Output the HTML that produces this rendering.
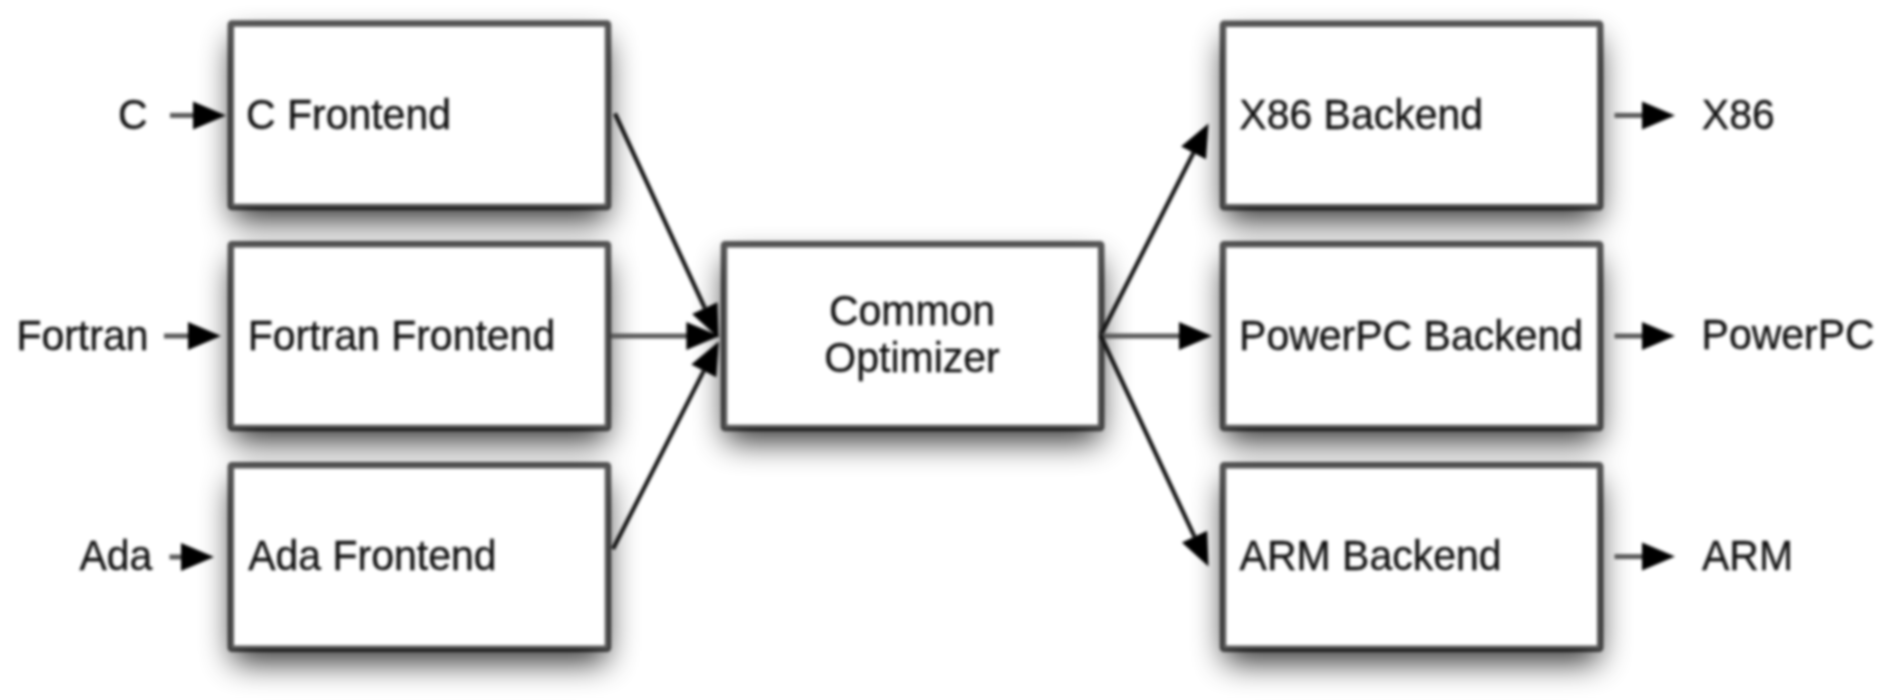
<!DOCTYPE html>
<html><head><meta charset="utf-8"><style>
html,body{margin:0;padding:0;background:#fff;width:1892px;height:700px;overflow:hidden}
svg{display:block;filter:blur(1.4px)}
.sh rect{fill:#000}
.bx rect{fill:#fff;stroke:rgba(0,0,0,0.66);stroke-width:6.5}
.ln{stroke:#151515;stroke-width:4.2}
.hl{stroke:#5a5a5a;stroke-width:5}
polygon{fill:#000}
text{font-family:"Liberation Sans",sans-serif;font-size:41px;fill:#111;stroke:#111;stroke-width:0.35px}
</style></head><body>
<svg width="1892" height="700" viewBox="0 0 1892 700">
<defs>
<filter id="sh" x="-1000" y="-1000" width="4000" height="3000" filterUnits="userSpaceOnUse">
<feGaussianBlur stdDeviation="16"/>
</filter>
</defs>
<rect width="1892" height="700" fill="#fff"/>
<g class="sh" filter="url(#sh)" opacity="0.82">
<rect x="232.55" y="40.25" width="373.7" height="180.1"/>
<rect x="232.55" y="261.05" width="373.7" height="180.1"/>
<rect x="232.55" y="481.95" width="373.7" height="180.1"/>
<rect x="725.75" y="261.05" width="373.7" height="180.1"/>
<rect x="1224.75" y="40.45" width="373.7" height="180.1"/>
<rect x="1224.75" y="261.05" width="373.7" height="180.1"/>
<rect x="1224.75" y="481.95" width="373.7" height="180.1"/>
</g>
<g class="bx">
<rect x="230.8" y="23.5" width="377.2" height="183.6" rx="1"/>
<rect x="230.8" y="244.3" width="377.2" height="183.6" rx="1"/>
<rect x="230.8" y="465.2" width="377.2" height="183.6" rx="1"/>
<rect x="724" y="244.3" width="377.2" height="183.6" rx="1"/>
<rect x="1223" y="23.7" width="377.2" height="183.6" rx="1"/>
<rect x="1223" y="244.3" width="377.2" height="183.6" rx="1"/>
<rect x="1223" y="465.2" width="377.2" height="183.6" rx="1"/>
</g>
<line class="hl" x1="170.0" y1="115.4" x2="193.5" y2="115.4"/>
<polygon points="226.0,115.4 193.0,129.4 193.0,101.4"/>
<line class="hl" x1="164.0" y1="336.0" x2="188.5" y2="336.0"/>
<polygon points="221.0,336.0 188.0,350.0 188.0,322.0"/>
<line class="hl" x1="169.5" y1="557.0" x2="181.5" y2="557.0"/>
<polygon points="214.0,557.0 181.0,571.0 181.0,543.0"/>
<line class="hl" x1="1614.5" y1="115.4" x2="1642.5" y2="115.4"/>
<polygon points="1675.0,115.4 1642.0,129.4 1642.0,101.4"/>
<line class="hl" x1="1614.5" y1="336.0" x2="1642.5" y2="336.0"/>
<polygon points="1675.0,336.0 1642.0,350.0 1642.0,322.0"/>
<line class="hl" x1="1614.5" y1="556.6" x2="1642.5" y2="556.6"/>
<polygon points="1675.0,556.6 1642.0,570.6 1642.0,542.6"/>
<line class="ln" x1="615.0" y1="113.5" x2="704.8" y2="308.0"/>
<polygon points="718.6,338.0 692.1,313.9 717.5,302.2"/>
<line class="hl" x1="611.0" y1="336.0" x2="686.9" y2="336.0"/>
<polygon points="719.4,336.0 686.4,350.0 686.4,322.0"/>
<line class="ln" x1="613.0" y1="549.0" x2="703.8" y2="370.9"/>
<polygon points="718.8,341.5 716.3,377.3 691.3,364.5"/>
<line class="ln" x1="1100.9" y1="335.0" x2="1193.5" y2="152.8"/>
<polygon points="1208.5,123.4 1206.0,159.2 1181.1,146.5"/>
<line class="hl" x1="1101.0" y1="336.0" x2="1179.5" y2="336.0"/>
<polygon points="1212.0,336.0 1179.0,350.0 1179.0,322.0"/>
<line class="ln" x1="1100.4" y1="335.0" x2="1194.5" y2="536.6"/>
<polygon points="1208.5,566.5 1181.9,542.5 1207.2,530.7"/>
<text transform="translate(246 128.7) scale(1 1.05)">C Frontend</text>
<text transform="translate(247.7 349.7) scale(1 1.05)">Fortran Frontend</text>
<text transform="translate(248.2 570.2) scale(1 1.05)">Ada Frontend</text>
<text transform="translate(1239.3 128.89999999999998) scale(1 1.05)">X86 Backend</text>
<text transform="translate(1239.1 349.5) scale(1 1.05)">PowerPC Backend</text>
<text transform="translate(1239.6 570.0) scale(1 1.05)">ARM Backend</text>
<text transform="translate(118 128.7) scale(1 1.05)">C</text>
<text transform="translate(16.4 349.7) scale(1 1.05)">Fortran</text>
<text transform="translate(79.5 569.7) scale(1 1.05)">Ada</text>
<text transform="translate(1701.8 128.5) scale(1 1.05)">X86</text>
<text transform="translate(1701.6 349.2) scale(1 1.05)">PowerPC</text>
<text transform="translate(1702 570.2) scale(1 1.05)">ARM</text>
<text transform="translate(912 325.3) scale(1 1.05)" text-anchor="middle">Common</text>
<text transform="translate(912 371.5) scale(1 1.05)" text-anchor="middle">Optimizer</text>
</svg>
</body></html>
